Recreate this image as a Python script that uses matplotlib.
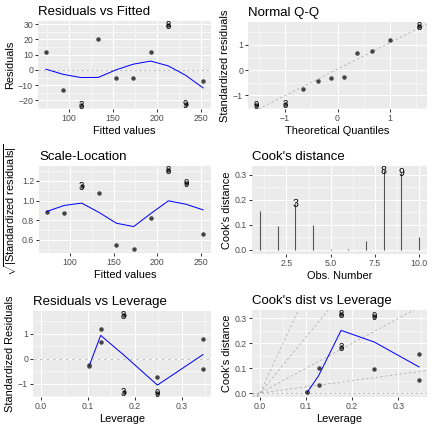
import numpy as np
import matplotlib
matplotlib.use('Agg')
import matplotlib.pyplot as plt

plt.rcParams['font.family'] = ['Liberation Sans', 'DejaVu Sans']
plt.rcParams['mathtext.fontset'] = 'custom'
plt.rcParams['mathtext.rm'] = 'Liberation Sans'
plt.rcParams['mathtext.it'] = 'Liberation Sans:italic'

obs = [1, 2, 3, 4, 5, 6, 7, 8, 9, 10]
fitted = [73.5, 93.4, 113.3, 133.2, 153.1, 173.0, 192.9, 212.8, 232.7, 252.6]
resid = [11.6, -12.9, -23.0, 20.5, -5.6, -5.0, 11.8, 29.5, -22.5, -7.1]
std_resid = [0.77, -0.75, -1.35, 1.18, -0.30, -0.27, 0.68, 1.75, -1.38, -0.43]
sqrt_std = [0.879, 0.872, 1.143, 1.078, 0.546, 0.508, 0.824, 1.31, 1.177, 0.665]
leverage = [0.345, 0.248, 0.176, 0.127, 0.103, 0.103, 0.127, 0.176, 0.248, 0.345]
cooks = [0.155, 0.095, 0.186, 0.101, 0.004, 0.003, 0.034, 0.318, 0.310, 0.051]
theo_q = [-1.547, -1.0, -0.656, -0.376, -0.123, 0.123, 0.376, 0.656, 1.0, 1.547]
labelled = [3, 8, 9]

# blue smoother lines
smooth_rf = [0.5, -2.9, -5.0, -4.9, 0.0, 3.8, 5.8, 2.7, -3.5, -11.8]
smooth_sl = [0.889, 0.95, 0.974, 0.88, 0.77, 0.736, 0.87, 0.997, 0.963, 0.905]
lev_fit = [0.103, 0.127, 0.176, 0.248, 0.345]
smooth_rl = [-0.27, 0.93, 0.15, -1.06, 0.16]
smooth_cl = [0.004, 0.069, 0.252, 0.205, 0.105]
qq_intercept, qq_slope = 0.04, 1.05
contour_slopes = [0, 0.25, 1, 2.25, 4]

PT_COL = '#444444'
GREY = '#999999'
W = H = 432

fig = plt.figure(figsize=(6, 6), dpi=72)


def add_panel(l, t, r, b):
    return fig.add_axes([l / W, 1 - b / H, (r - l) / W, (b - t) / H])


def expand(lo, hi, f=0.05):
    d = (hi - lo) * f
    return lo - d, hi + d


def style(ax, title, xlabel, ylabel, xlim, ylim, xt, yt, xtl=None, ytl=None):
    ax.set_facecolor('#EBEBEB')
    for s in ax.spines.values():
        s.set_visible(False)
    ax.set_xlim(xlim)
    ax.set_ylim(ylim)
    ax.set_xticks(xt)
    ax.set_yticks(yt)
    if xtl is not None:
        ax.set_xticklabels(xtl)
    if ytl is not None:
        ax.set_yticklabels(ytl)
    for t, lim, which in ((xt, xlim, 'x'), (yt, ylim, 'y')):
        step = t[1] - t[0]
        mn = np.arange(t[0] - step / 2, t[-1] + step, step)
        mn = [m for m in mn if lim[0] < m < lim[1]]
        if which == 'x':
            ax.set_xticks(mn, minor=True)
        else:
            ax.set_yticks(mn, minor=True)
    ax.grid(which='major', color='white', lw=1.07)
    ax.grid(which='minor', color='white', lw=0.53)
    ax.set_axisbelow(True)
    ax.tick_params(which='major', length=2.75, width=1.0, color='#333333',
                   labelsize=8.8, labelcolor='#4D4D4D', pad=2.2)
    ax.tick_params(which='minor', length=0)
    ax.set_title(title, loc='left', fontsize=13.2, pad=6)
    ax.set_xlabel(xlabel, fontsize=11, labelpad=2.75)
    ax.set_ylabel(ylabel, fontsize=11, labelpad=2.75)


def label(ax, x, y, s, size=9.5):
    ax.text(x, y, s, fontsize=size, ha='center', va='center_baseline',
            color='black', zorder=4)


def points(ax, x, y):
    ax.scatter(x, y, s=20, color=PT_COL, zorder=3, linewidths=0)
    for i in labelled:
        label(ax, x[i - 1], y[i - 1], str(i))


# Residuals vs Fitted
ax = add_panel(38, 21, 211, 109)
ax.axhline(0, color=GREY, lw=0.6, ls=(0, (4, 4)), zorder=2)
points(ax, fitted, resid)
ax.plot(fitted, smooth_rf, color='#0000FF', lw=1.0, zorder=3)
style(ax, 'Residuals vs Fitted', 'Fitted values', 'Residuals',
      expand(min(fitted), max(fitted)), expand(min(resid), max(resid)),
      [100, 150, 200, 250], [-20, -10, 0, 10, 20, 30])

# Normal Q-Q
ax = add_panel(248, 22, 427, 109)
sq = sorted(std_resid)
order = sorted(range(10), key=lambda k: std_resid[k])
ax.axline((0, qq_intercept), slope=qq_slope, color=GREY, lw=0.6,
          ls=(0, (4, 4)), zorder=2)
ax.scatter(theo_q, sq, s=20, color=PT_COL, zorder=3, linewidths=0)
for j, k in enumerate(order):
    if obs[k] in labelled:
        label(ax, theo_q[j], sq[j], str(obs[k]))
style(ax, 'Normal Q-Q', 'Theoretical Quantiles', 'Standardized residuals',
      expand(min(theo_q), max(theo_q)), expand(min(sq), max(sq)),
      [-1, 0, 1], [-1, 0, 1])

# Scale-Location
ax = add_panel(39, 166, 211, 253)
points(ax, fitted, sqrt_std)
ax.plot(fitted, smooth_sl, color='#0000FF', lw=1.0, zorder=3)
style(ax, 'Scale-Location', 'Fitted values',
      r'$\sqrt{|\mathrm{Standardized\ residuals}|}$',
      expand(min(fitted), max(fitted)), expand(min(sqrt_std), max(sqrt_std)),
      [100, 150, 200, 250], [0.6, 0.8, 1.0, 1.2],
      ytl=['0.6', '0.8', '1.0', '1.2'])

# Cook's distance
ax = add_panel(252, 166, 427, 254)
ax.vlines(obs, 0, cooks, color='#555555', lw=1.1, zorder=3)
for i in labelled:
    label(ax, obs[i - 1], cooks[i - 1], str(i), size=10.5)
style(ax, "Cook's distance", 'Obs. Number', "Cook's distance",
      expand(min(obs), max(obs)), expand(0, max(cooks)),
      [2.5, 5.0, 7.5, 10.0], [0.0, 0.1, 0.2, 0.3],
      xtl=['2.5', '5.0', '7.5', '10.0'], ytl=['0.0', '0.1', '0.2', '0.3'])

# Residuals vs Leverage
ax = add_panel(33, 311, 211, 397)
ax.axhline(0, color='#BBBBBB', lw=0.8, ls=(0, (4, 4)), zorder=2)
points(ax, leverage, std_resid)
ax.plot(lev_fit, smooth_rl, color='#0000FF', lw=1.0, zorder=3)
style(ax, 'Residuals vs Leverage', 'Leverage', 'Standardized Residuals',
      expand(0, max(leverage)), expand(min(std_resid), max(std_resid)),
      [0.0, 0.1, 0.2, 0.3], [-1, 0, 1],
      xtl=['0.0', '0.1', '0.2', '0.3'])

# Cook's dist vs Leverage
ax = add_panel(252, 310, 427, 397)
for sl in contour_slopes:
    ax.axline((0, 0), slope=sl, color=GREY, lw=0.6, ls=(0, (4, 4)), zorder=2)
points(ax, leverage, cooks)
ax.plot(lev_fit, smooth_cl, color='#0000FF', lw=1.0, zorder=3)
style(ax, "Cook's dist vs Leverage", 'Leverage', "Cook's distance",
      expand(0, max(leverage)), expand(0, max(cooks)),
      [0.0, 0.1, 0.2, 0.3], [0.0, 0.1, 0.2, 0.3],
      xtl=['0.0', '0.1', '0.2', '0.3'], ytl=['0.0', '0.1', '0.2', '0.3'])

fig.savefig('out.png', dpi=72)
